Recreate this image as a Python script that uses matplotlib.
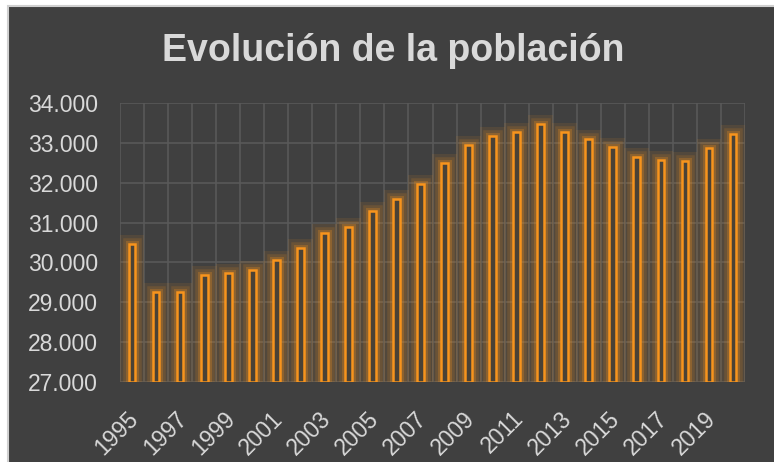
import matplotlib
matplotlib.use('Agg')
import matplotlib.pyplot as plt
import matplotlib.patheffects as pe
import matplotlib.transforms as mtransforms
from matplotlib.patches import Rectangle
from matplotlib.ticker import FuncFormatter

# data (thousands of inhabitants)
years = list(range(1995, 2021))
poblacion = [30450, 29260, 29260, 29680, 29740, 29810, 30050, 30360, 30750,
             30900, 31290, 31580, 31970, 32490, 32950, 33170, 33260, 33480,
             33280, 33090, 32900, 32650, 32570, 32550, 32880, 33210]
yticks = [27000, 28000, 29000, 30000, 31000, 32000, 33000, 34000]
xlabels = [str(y) if (y - 1995) % 2 == 0 else '' for y in years]

bg = '#404040'
orange = '#F7941D'
txt = '#D9D9D9'
grid = '#595959'

plt.rcParams['font.family'] = ['Liberation Sans', 'DejaVu Sans']

fig = plt.figure(figsize=(7.74, 4.62), dpi=100)
fig.patch.set_facecolor('white')
# dark chart area, cut off at right and bottom like the screenshot
fig.patches.append(Rectangle((8 / 774, -0.05), 1.1, 1.05 - 6 / 462,
                             transform=fig.transFigure, facecolor=bg,
                             edgecolor='#D0D0D0', linewidth=1.5, zorder=-5))

ax = fig.add_axes([120 / 774, 80 / 462, 625 / 774, 279 / 462])
ax.set_facecolor(bg)

x = list(range(len(years)))
heights = [v - 27000 for v in poblacion]

# glow layer underneath
glow = ax.bar(x, heights, bottom=27000, width=0.28, facecolor='none',
              edgecolor=orange, linewidth=1, zorder=2)
for b in glow:
    b.set_path_effects([
        pe.Stroke(linewidth=13, foreground=orange, alpha=0.10),
        pe.Stroke(linewidth=9, foreground=orange, alpha=0.15),
        pe.Stroke(linewidth=5, foreground=orange, alpha=0.25)])

# the bars themselves: outline only, dark inside
bars = ax.bar(x, heights, bottom=27000, width=0.28,
              facecolor='#4a4236', edgecolor=orange, linewidth=1.8, zorder=3)

ax.set_xlim(-0.5, len(years) - 0.5)
ax.set_ylim(27000, 34000)
ax.set_yticks(yticks)
ax.yaxis.set_major_formatter(FuncFormatter(lambda v, p: f'{int(v):,}'.replace(',', '.')))

# vertical grid at category boundaries
for i in range(len(years) + 1):
    ax.axvline(i - 0.5, color=grid, linewidth=1.2, zorder=1)
ax.yaxis.grid(True, color=grid, linewidth=1.2, zorder=1)
ax.set_axisbelow(True)

ax.set_xticks(x)
ax.set_xticklabels(xlabels, rotation=45, ha='right', rotation_mode='anchor')
ax.tick_params(axis='both', length=0, colors=txt, labelsize=16.5)
ax.tick_params(axis='x', pad=18)
ax.tick_params(axis='y', pad=16)
# nudge the year labels a little to the left
shift = mtransforms.ScaledTranslation(-5 / 100, 0, fig.dpi_scale_trans)
for lab in ax.get_xticklabels():
    lab.set_transform(lab.get_transform() + shift)
for s in ax.spines.values():
    s.set_visible(False)

fig.text(0.508, 1 - 51 / 462, 'Evolución de la población', ha='center',
         va='center', fontsize=27, fontweight='bold', color=txt)

fig.savefig('out.png', dpi=100, facecolor=fig.get_facecolor())
